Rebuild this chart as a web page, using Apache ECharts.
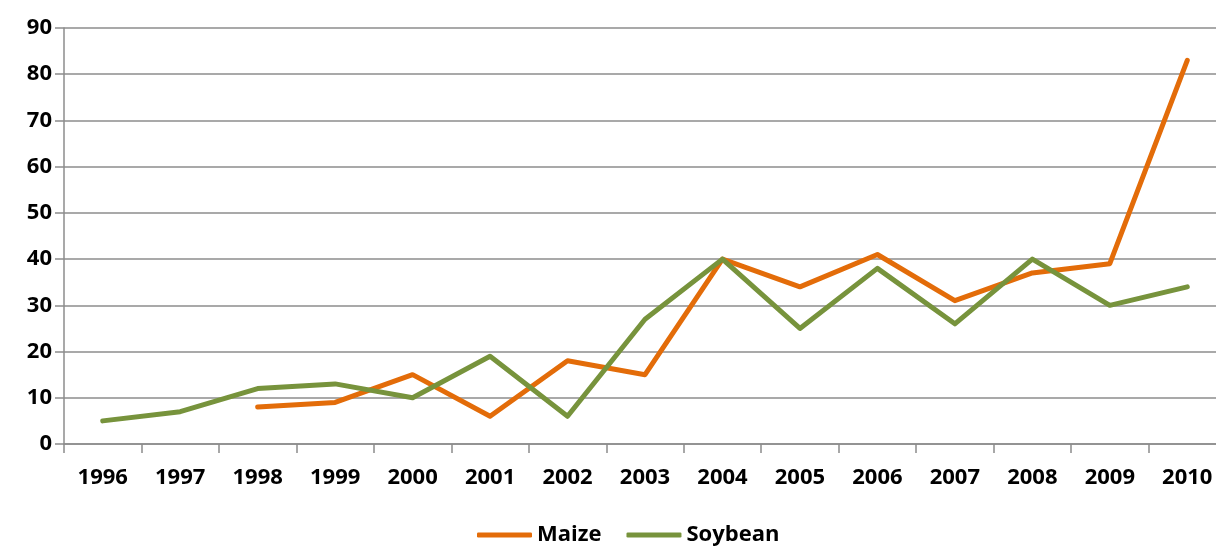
<!DOCTYPE html>
<html>
<head>
<meta charset="utf-8">
<script src="https://cdn.jsdelivr.net/npm/echarts@6/dist/echarts.min.js"></script>
<style>
  html, body { margin: 0; padding: 0; background: #ffffff; overflow: hidden; }
  /* the plot runs slightly past the right edge of the window */
  #chart { width: 1232px; height: 547px; }
</style>
</head>
<body>
<div id="chart"></div>
<script>
// Years on the category axis
const years = ['1996', '1997', '1998', '1999', '2000', '2001', '2002', '2003',
               '2004', '2005', '2006', '2007', '2008', '2009', '2010'];
// Maize has no values before 1998
const maize = [null, null, 8, 9, 15, 6, 18, 15, 40, 34, 41, 31, 37, 39, 83];
const soybean = [5, 7, 12, 13, 10, 19, 6, 27, 40, 25, 38, 26, 40, 30, 34];

const FONT = '"Open Sans", Lato, sans-serif';
const GRID_GRAY = '#8c8c8c';

const chart = echarts.init(document.getElementById('chart'));
chart.setOption({
  animation: false,
  backgroundColor: '#ffffff',
  grid: { left: 64, top: 28, width: 1162, height: 416, containLabel: false },
  legend: {
    top: 519,
    left: 472,
    itemWidth: 55,
    itemHeight: 5,
    itemGap: 25,
    icon: 'roundRect',
    textStyle: { fontFamily: FONT, fontWeight: 'bold', fontSize: 22, color: '#000' },
    data: ['Maize', 'Soybean']
  },
  xAxis: {
    type: 'category',
    data: years,
    boundaryGap: true,
    axisLine: { lineStyle: { color: GRID_GRAY, width: 1.5 } },
    axisTick: { show: true, length: 9, lineStyle: { color: GRID_GRAY, width: 1.5 } },
    axisLabel: { margin: 23, fontFamily: FONT, fontWeight: 'bold', fontSize: 22, color: '#000' }
  },
  yAxis: {
    type: 'value',
    min: 0, max: 90, interval: 10,
    axisLine: { show: true, lineStyle: { color: GRID_GRAY, width: 1.5 } },
    axisTick: { show: true, length: 9, lineStyle: { color: GRID_GRAY, width: 1.5 } },
    splitLine: { lineStyle: { color: GRID_GRAY, width: 1.5 } },
    axisLabel: { margin: 12, fontFamily: FONT, fontWeight: 'bold', fontSize: 22, color: '#000' }
  },
  series: [
    {
      name: 'Maize', type: 'line', data: maize,
      symbol: 'none', connectNulls: false,
      itemStyle: { color: '#e36c09' },
      lineStyle: { color: '#e36c09', width: 5, cap: 'round', join: 'round' }
    },
    {
      name: 'Soybean', type: 'line', data: soybean,
      symbol: 'none',
      itemStyle: { color: '#77933c' },
      lineStyle: { color: '#77933c', width: 5, cap: 'round', join: 'round' }
    }
  ]
});
</script>
</body>
</html>
